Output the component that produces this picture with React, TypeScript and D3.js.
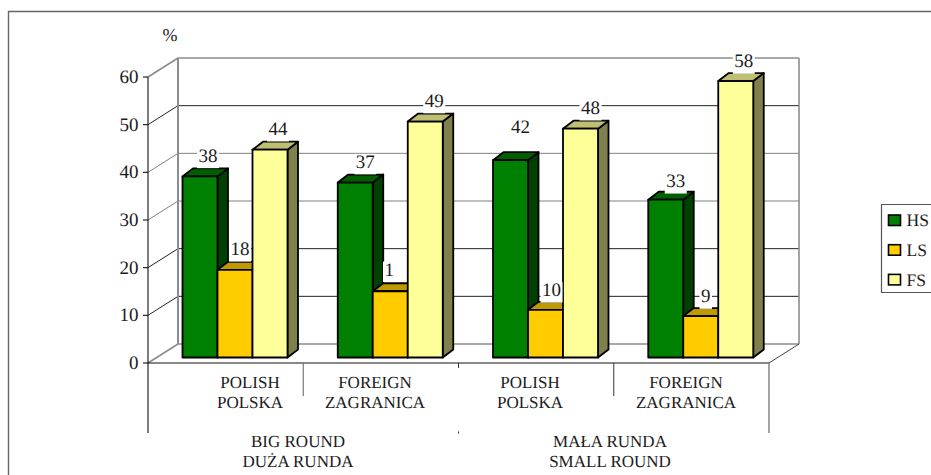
import React from "react";
import * as d3 from "d3";

const groups = ["g1", "g2", "g3", "g4"];
const seriesNames = ["HS", "LS", "FS"];
const hsValues = [38, 36.7, 41.4, 33.1];
const lsValues = [18.4, 13.9, 10, 8.7];
const fsValues = [43.6, 49.5, 48, 58];
const hsLabels = ["38", "37", "42", "33"];
const lsLabels = ["18", "1", "10", "9"];
const fsLabels = ["44", "49", "48", "58"];
const yTicks = [0, 10, 20, 30, 40, 50, 60];
const subLine1 = ["POLISH", "FOREIGN", "POLISH", "FOREIGN"];
const subLine2 = ["POLSKA", "ZAGRANICA", "POLSKA", "ZAGRANICA"];
const topLine1 = ["BIG ROUND", "MAŁA RUNDA"];
const topLine2 = ["DUŻA RUNDA", "SMALL ROUND"];

const FONT = "'Liberation Serif', serif";
const seriesValues = [hsValues, lsValues, fsValues];
const seriesLabels = [hsLabels, lsLabels, fsLabels];
const fronts = ["#008000", "#FFCC00", "#FFFF99"];
const tops = ["#006000", "#BF9900", "#BFBF73"];
const sides = ["#004000", "#806600", "#80804D"];

// geometry
const X0 = 148, X1 = 769, Y0 = 363, Y60 = 77, DX = 30, DY = 19;
const BASE = 357.5, BDX = 10.5, BDY = 8;
const gridColor: Record<number, string> = { 0: "#8c8c8c", 10: "#222", 20: "#222", 30: "#808080", 40: "#808080", 50: "#222", 60: "#8c8c8c" };
// label nudges relative to automatic placement [dx, dy]
const nudge = [
  [[8, 0], [10, 0], [10, -12], [10, 2]],
  [[5, 0], [-1, -1], [6, 1], [5, 1]],
  [[8, 0], [9, 0], [10, 0], [8, 1]],
];
const subCenters = [250, 375, 530, 686];
const topCenters = [298, 610];

export default function App() {
  const y = d3.scaleLinear().domain([0, 60]).range([Y0, Y60]);
  const h = (v: number) => y(0) - y(v);
  const x = d3.scaleBand<string>().domain(groups).range([X0, X1]).padding(0);
  const inner = d3.scaleBand<string>().domain(seriesNames).range([34.5, 139.5]).padding(0);
  const seps = [0, 1, 2, 3, 4].map((i) => X0 + i * x.bandwidth());
  return (
    <svg width={931} height={475} style={{ position: "absolute", left: 0, top: 0, background: "#fff", textRendering: "geometricPrecision" }} fontFamily={FONT} fill="#1c1c1c">
      <path d="M8.5 475V11.5H931" fill="none" stroke="#666" strokeWidth={1.4} />
      <text x={170} y={41} fontSize={18} textAnchor="middle">%</text>

      {/* walls & grid */}
      {yTicks.map((t) => (
        <g key={t} stroke={gridColor[t]} strokeWidth={t === 0 || t === 60 ? 1.6 : 1}>
          <line x1={X0} x2={X0 + DX} y1={y(t)} y2={y(t) - DY} />
          <line x1={X0 + DX} x2={X1 + DX} y1={y(t) - DY} y2={y(t) - DY} />
        </g>
      ))}
      <line x1={X0 + DX} x2={X0 + DX} y1={y(60) - DY} y2={y(0) - DY} stroke="#8c8c8c" strokeWidth={2} />
      <line x1={X1 + DX} x2={X1 + DX} y1={y(60) - DY} y2={y(0) - DY} stroke="#8c8c8c" strokeWidth={1.6} />
      <line x1={X1} x2={X1 + DX} y1={y(0)} y2={y(0) - DY} stroke="#444" strokeWidth={1} />

      {/* axes */}
      <line x1={X0} x2={X0} y1={y(60)} y2={433} stroke="#111" strokeWidth={1.1} />
      <line x1={X0} x2={X1} y1={y(0)} y2={y(0)} stroke="#111" strokeWidth={1.1} />
      {yTicks.map((t) => (
        <g key={t}>
          <line x1={X0 - 5} x2={X0} y1={y(t)} y2={y(t)} stroke="#111" strokeWidth={1.1} />
          <text x={138.5} y={y(t) + 6} fontSize={19} textAnchor="end">{t}</text>
        </g>
      ))}
      <line x1={seps[1]} x2={seps[1]} y1={Y0} y2={396} stroke="#777" strokeWidth={1.2} />
      <line x1={seps[2]} x2={seps[2]} y1={Y0} y2={368} stroke="#333" strokeWidth={1} />
      <line x1={seps[2]} x2={seps[2]} y1={431.5} y2={433.5} stroke="#333" strokeWidth={1} />
      <line x1={seps[3]} x2={seps[3]} y1={Y0} y2={396} stroke="#333" strokeWidth={1} />
      <line x1={seps[4]} x2={seps[4]} y1={Y0} y2={433} stroke="#666" strokeWidth={1.2} />

      {/* bars */}
      {groups.map((g, gi) => (
        <g key={g}>
          {seriesNames.map((s, si) => {
            const x0 = x(g)! + inner(s)!;
            const w = inner.bandwidth();
            const top = BASE - h(seriesValues[si][gi]);
            const sk = { stroke: "#000", strokeWidth: 1.8, strokeLinejoin: "round" as const };
            return (
              <g key={s}>
                <path d={`M${x0 + w} ${top}l${BDX} ${-BDY}V${BASE - BDY}l${-BDX} ${BDY}Z`} fill={sides[si]} {...sk} />
                <path d={`M${x0} ${top}l${BDX} ${-BDY}H${x0 + w + BDX}l${-BDX} ${BDY}Z`} fill={tops[si]} {...sk} />
                <rect x={x0} y={top} width={w} height={BASE - top} fill={fronts[si]} {...sk} />
              </g>
            );
          })}
        </g>
      ))}

      {/* value labels */}
      {seriesNames.map((s, si) =>
        groups.map((g, gi) => {
          const cx = x(g)! + inner(s)! + inner.bandwidth() / 2 + nudge[si][gi][0];
          const by = BASE - h(seriesValues[si][gi]) - 14.7 + nudge[si][gi][1];
          const label = seriesLabels[si][gi];
          const tw = label.length * 9.5 + 3;
          return (
            <g key={s + g}>
              <rect x={cx - tw / 2} y={by - 14} width={tw} height={20.5} fill="#fff" />
              <text x={cx} y={by} fontSize={19} textAnchor="middle">{label}</text>
            </g>
          );
        })
      )}

      {/* category labels */}
      {groups.map((g, i) => (
        <g key={g} fontSize={17} textAnchor="middle">
          <text x={subCenters[i]} y={387.5}>{subLine1[i]}</text>
          <text x={subCenters[i]} y={407.5}>{subLine2[i]}</text>
        </g>
      ))}
      {topLine1.map((t, i) => (
        <g key={t} fontSize={17} textAnchor="middle">
          <text x={topCenters[i]} y={447}>{t}</text>
          <text x={topCenters[i]} y={467}>{topLine2[i]}</text>
        </g>
      ))}

      {/* legend */}
      <path d="M931 204.5H881.5V292.5H931" fill="#fff" stroke="#555" strokeWidth={1.2} />
      {seriesNames.map((s, i) => (
        <g key={s}>
          <rect x={888.5} y={215 + i * 29.7} width={12} height={10.5} fill={fronts[i]} stroke="#000" strokeWidth={1.6} />
          <text x={906.5} y={225.5 + i * 30} fontSize={17.5}>{s}</text>
        </g>
      ))}
    </svg>
  );
}
